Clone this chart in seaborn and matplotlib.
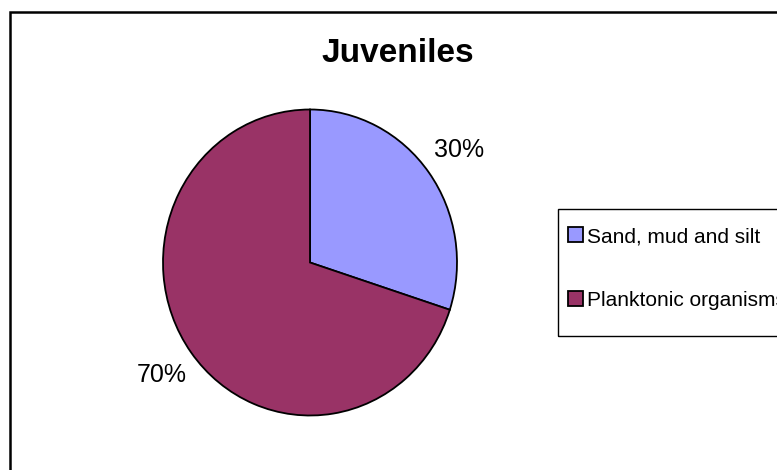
import matplotlib
matplotlib.use("Agg")
import matplotlib.pyplot as plt
from matplotlib.patches import Rectangle
import seaborn as sns

# chart data
categories = ["Sand, mud and silt", "Planktonic organisms"]
shares = [30, 70]
colors = ["#9999FF", "#993366"]
title = "Juveniles"

sns.set_theme(style="white")
plt.rcParams['font.family'] = ['Liberation Sans', 'DejaVu Sans']
plt.rcParams['text.color'] = 'black'

W, H = 777, 470
fig = plt.figure(figsize=(W / 100, H / 100), dpi=100)

# pie area: centre ~(310, 262) px, slightly taller than wide
rx, ry = 147, 153
lim = 1.03
cx, cy = 310, 262.5
ax = fig.add_axes([(cx - rx * lim) / W, (H - cy - ry * lim) / H,
                   2 * rx * lim / W, 2 * ry * lim / H])

wedges, texts, autotexts = ax.pie(
    shares, colors=colors, startangle=90, counterclock=False,
    autopct='%1.0f%%', pctdistance=1.25,
    wedgeprops=dict(edgecolor='black', linewidth=1.3),
    textprops=dict(fontsize=18, color='black'))
ax.set_xlim(-lim, lim)
ax.set_ylim(-lim, lim)
ax.set_aspect('auto')
ax.axis('off')

# Excel centres the title on the whole chart area
fig.text(398 / W, 1 - 53 / H, title, ha='center', va='center',
         fontsize=24, fontweight='bold', color='black')

# legend entries (frame drawn separately so padding can differ per side)
leg = fig.legend(wedges, categories, loc='center left',
                 bbox_to_anchor=(568 / W, 1 - 268.5 / H),
                 fontsize=15, frameon=False,
                 handlelength=0.72, handleheight=0.72, handletextpad=0.2,
                 labelspacing=2.15, borderpad=0, borderaxespad=0)
for t in leg.get_texts():
    t.set_color('black')
fig.patches.append(Rectangle((558 / W, 1 - 336 / H), 1, 127 / H,
                             transform=fig.transFigure, fill=False,
                             edgecolor='black', linewidth=1.0))

# outer chart-area border (runs off the right and bottom edges)
fig.patches.append(Rectangle((10 / W, -0.1), 2, 1 - 12 / H + 0.1,
                             transform=fig.transFigure, fill=False,
                             edgecolor='black', linewidth=1.8))

fig.savefig('out.png', dpi=100)
